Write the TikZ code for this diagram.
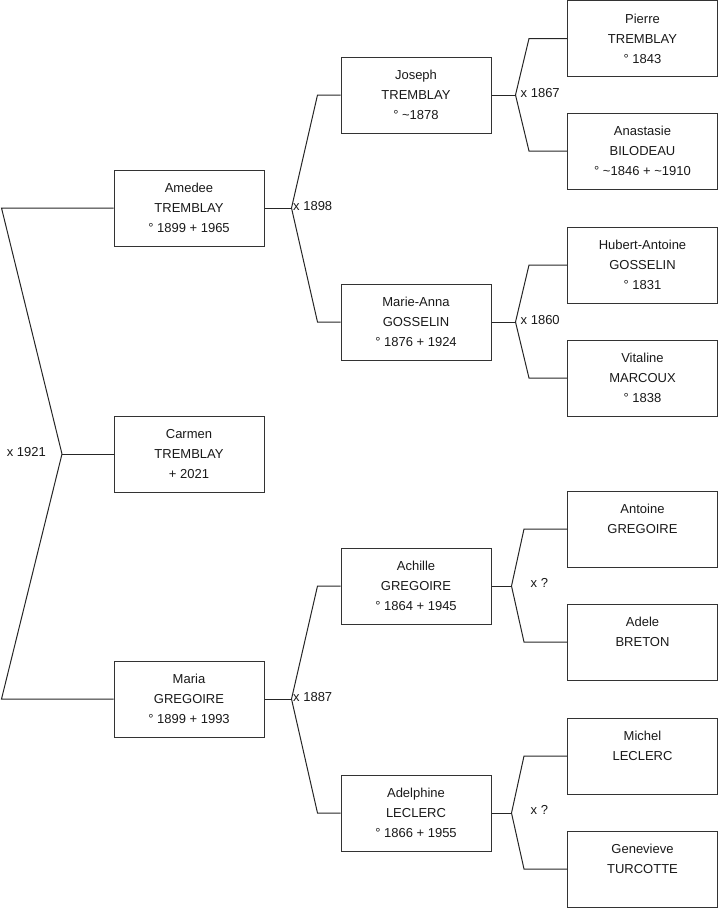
\documentclass[tikz,border=0pt]{standalone}
\usepackage{fontspec}
\setmainfont{Liberation Sans}
\begin{document}
\begin{tikzpicture}[x=1pt,y=-1pt,
  person/.style={draw=black!80, line width=1pt, minimum width=150pt, minimum height=76pt,
    align=center, inner sep=0pt, font=\fontsize{13}{20}\selectfont, text=black!90},
  link/.style={draw=black!85, line width=1pt},
  union/.style={font=\fontsize{13}{15}\selectfont, inner sep=0pt, text=black!90}]
\useasboundingbox (0,0) rectangle (719,908);

% generation 1 (left column)
\node[person] (amedee) at (189,208) {Amedee\\TREMBLAY\\° 1899 + 1965};
\node[person] (carmen) at (189,454) {Carmen\\TREMBLAY\\+ 2021};
\node[person] (maria)  at (189,699) {Maria\\GREGOIRE\\° 1899 + 1993};

% generation 2
\node[person] (joseph)    at (416,95)  {Joseph\\TREMBLAY\\° \textasciitilde 1878};
\node[person] (marieanna) at (416,322) {Marie-Anna\\GOSSELIN\\° 1876 + 1924};
\node[person] (achille)   at (416,586) {Achille\\GREGOIRE\\° 1864 + 1945};
\node[person] (adelphine) at (416,813) {Adelphine\\LECLERC\\° 1866 + 1955};

% generation 3
\node[person] (pierre)    at (642.5,38.5) {Pierre\\TREMBLAY\\° 1843};
\node[person] (anastasie) at (642.5,151)  {Anastasie\\BILODEAU\\° \textasciitilde 1846 + \textasciitilde 1910};
\node[person] (hubert)    at (642.5,265)  {Hubert-Antoine\\GOSSELIN\\° 1831};
\node[person] (vitaline)  at (642.5,378)  {Vitaline\\MARCOUX\\° 1838};
\node[person] (antoine)   at (642.5,529)  {Antoine\\GREGOIRE\\~};
\node[person] (adele)     at (642.5,642)  {Adele\\BRETON\\~};
\node[person] (michel)    at (642.5,756)  {Michel\\LECLERC\\~};
\node[person] (genevieve) at (642.5,869)  {Genevieve\\TURCOTTE\\~};

% union 1921
\coordinate (u1921) at (62,454);
\draw[link] (carmen.west) -- (u1921);
\draw[link] (u1921) -- ([xshift=-112]amedee.west) -- (amedee.west);
\draw[link] (u1921) -- ([xshift=-112]maria.west) -- (maria.west);
\node[union, anchor=east] (l1921) at ([xshift=-16,yshift=2]u1921) {x 1921};

% union 1898
\coordinate (u1898) at ([xshift=27]amedee.east);
\draw[link] (amedee.east) -- (u1898);
\draw[link] (u1898) -- ([xshift=-23]joseph.west) -- (joseph.west);
\draw[link] (u1898) -- ([xshift=-23]marieanna.west) -- (marieanna.west);
\node[union, anchor=west] (l1898) at ([xshift=1.5,yshift=1.5]u1898) {x 1898};

% union 1887
\coordinate (u1887) at ([xshift=27]maria.east);
\draw[link] (maria.east) -- (u1887);
\draw[link] (u1887) -- ([xshift=-23]achille.west) -- (achille.west);
\draw[link] (u1887) -- ([xshift=-23]adelphine.west) -- (adelphine.west);
\node[union, anchor=west] (l1887) at ([xshift=1.5,yshift=1.5]u1887) {x 1887};

% union 1867
\coordinate (u1867) at ([xshift=24]joseph.east);
\draw[link] (joseph.east) -- (u1867);
\draw[link] (u1867) -- ([xshift=-38]pierre.west) -- (pierre.west);
\draw[link] (u1867) -- ([xshift=-38]anastasie.west) -- (anastasie.west);
\node[union, anchor=west] (l1867) at ([xshift=5,yshift=2]u1867) {x 1867};

% union 1860
\coordinate (u1860) at ([xshift=24]marieanna.east);
\draw[link] (marieanna.east) -- (u1860);
\draw[link] (u1860) -- ([xshift=-38]hubert.west) -- (hubert.west);
\draw[link] (u1860) -- ([xshift=-38]vitaline.west) -- (vitaline.west);
\node[union, anchor=west] (l1860) at ([xshift=5,yshift=2]u1860) {x 1860};

% union Achille
\coordinate (uach) at ([xshift=20]achille.east);
\draw[link] (achille.east) -- (uach);
\draw[link] (uach) -- ([xshift=-43]antoine.west) -- (antoine.west);
\draw[link] (uach) -- ([xshift=-43]adele.west) -- (adele.west);
\node[union, anchor=west] (lach) at ([xshift=19,yshift=3]uach) {x ?};

% union Adelphine
\coordinate (uade) at ([xshift=20]adelphine.east);
\draw[link] (adelphine.east) -- (uade);
\draw[link] (uade) -- ([xshift=-43]michel.west) -- (michel.west);
\draw[link] (uade) -- ([xshift=-43]genevieve.west) -- (genevieve.west);
\node[union, anchor=west] (lade) at ([xshift=19,yshift=3]uade) {x ?};
\end{tikzpicture}
\end{document}
